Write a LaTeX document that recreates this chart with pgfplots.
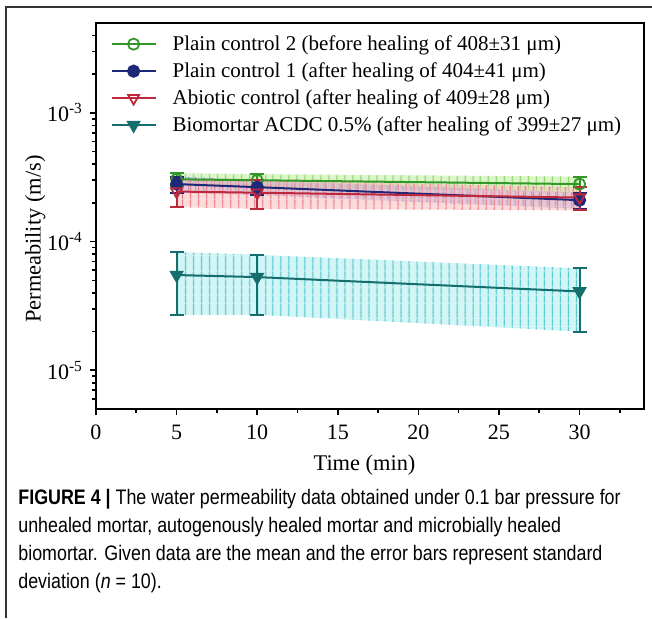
\documentclass[border=0pt]{standalone}
\usepackage{pgfplots}
\pgfplotsset{compat=1.18}
\usepackage{pgfplotstable}
\usetikzlibrary{patterns.meta}
\usepackage{fontspec}
\setmainfont{Liberation Serif}
\newfontfamily\capfont[FakeStretch=0.85]{Liberation Sans}

\definecolor{gline}{RGB}{50,150,40}
\definecolor{gband}{RGB}{195,240,165}
\definecolor{ghatch}{RGB}{140,215,100}
\definecolor{nline}{RGB}{30,40,120}
\definecolor{nband}{RGB}{175,175,235}
\definecolor{nhatch}{RGB}{120,120,210}
\definecolor{rline}{RGB}{190,40,60}
\definecolor{rband}{RGB}{248,190,190}
\definecolor{rhatch}{RGB}{235,125,135}
\definecolor{tline}{RGB}{20,110,110}
\definecolor{tband}{RGB}{180,238,238}
\definecolor{thatch}{RGB}{90,200,210}

\pgfplotstableread{
t y e
5 3.05e-4 0.35e-4
10 3.0e-4 0.35e-4
30 2.8e-4 0.4e-4
}\pctwo
\pgfplotstableread{
t y e
5 2.8e-4 0.4e-4
10 2.65e-4 0.35e-4
30 2.1e-4 0.3e-4
}\pcone
\pgfplotstableread{
t y e
5 2.45e-4 0.6e-4
10 2.4e-4 0.6e-4
30 2.2e-4 0.45e-4
}\abio
\pgfplotstableread{
t y e
5 5.5e-5 2.8e-5
10 5.3e-5 2.6e-5
30 4.1e-5 2.1e-5
}\bio

\begin{document}
\begin{tikzpicture}
\useasboundingbox (-48pt,-104.5pt) rectangle (278pt,204.5pt);
\draw[line width=1pt, black!80] (-45pt,-104.5pt) -- (-45pt,201pt) -- (278pt,201pt);
\begin{axis}[
  scale only axis, width=274pt, height=193pt,
  ymode=log, xmin=0, xmax=34, ymin=5e-6, ymax=5e-3,
  axis line style={line width=0.9pt},
  every tick/.style={black, line width=0.8pt},
  xtick={0,5,...,30}, minor xtick={2.5,7.5,...,32.5},
  ytick={1e-5,1e-4,1e-3},
  yticklabels={10\textsuperscript{-5},10\textsuperscript{-4},10\textsuperscript{-3}},
  minor ytick={6e-6,7e-6,8e-6,9e-6,2e-5,3e-5,4e-5,5e-5,6e-5,7e-5,8e-5,9e-5,2e-4,3e-4,4e-4,5e-4,6e-4,7e-4,8e-4,9e-4,2e-3,3e-3,4e-3},
  tick align=outside, xtick pos=bottom, ytick pos=left,
  major tick length=3pt, minor tick length=2pt,
  /pgf/number format/assume math mode=true,
  tick label style={font=\fontsize{11}{13}\selectfont},
  xticklabel style={yshift=-1.5pt},
  xlabel={Time (min)}, ylabel={Permeability (m/s)},
  label style={font=\fontsize{11.2}{13}\selectfont},
  xlabel style={at={(axis description cs:0.49,-0.145)}, anchor=center},
  ylabel style={at={(axis description cs:-0.111,0.44)}, anchor=center, rotate=0},
  legend style={at={(axis description cs:0.015,0.99)}, anchor=north west, draw=none, fill=none,
    font=\fontsize{10.5}{12}\selectfont, row sep=0.6pt, column sep=0pt},
  legend cell align=left,
  legend image code/.code={\draw[mark repeat=2,mark phase=2,#1] plot coordinates {(0pt,0pt)(11pt,0pt)(22pt,0pt)}; \path (28pt,0pt);},
]
% bands
\addplot[forget plot, draw=none, fill=gband, fill opacity=0.6] coordinates {(5,3.40e-4) (10,3.35e-4) (30,3.2e-4) (30,2.4e-4) (10,2.65e-4) (5,2.7e-4)} -- cycle;
\addplot[forget plot, draw=none, pattern={Lines[angle=90,distance=4pt,line width=0.7pt]}, pattern color=ghatch] coordinates {(5,3.40e-4) (10,3.35e-4) (30,3.2e-4) (30,2.4e-4) (10,2.65e-4) (5,2.7e-4)} -- cycle;
\addplot[forget plot, draw=none, fill=nband, fill opacity=0.55] coordinates {(5,3.2e-4) (10,3.0e-4) (30,2.4e-4) (30,1.8e-4) (10,2.3e-4) (5,2.4e-4)} -- cycle;
\addplot[forget plot, draw=none, pattern={Lines[angle=90,distance=4pt,line width=0.7pt,xshift=1.3pt]}, pattern color=nhatch] coordinates {(5,3.2e-4) (10,3.0e-4) (30,2.4e-4) (30,1.8e-4) (10,2.3e-4) (5,2.4e-4)} -- cycle;
\addplot[forget plot, draw=none, fill=rband, fill opacity=0.55] coordinates {(5,3.05e-4) (10,3.0e-4) (30,2.65e-4) (30,1.75e-4) (10,1.8e-4) (5,1.85e-4)} -- cycle;
\addplot[forget plot, draw=none, pattern={Lines[angle=90,distance=4pt,line width=0.7pt,xshift=2.6pt]}, pattern color=rhatch] coordinates {(5,3.05e-4) (10,3.0e-4) (30,2.65e-4) (30,1.75e-4) (10,1.8e-4) (5,1.85e-4)} -- cycle;
\addplot[forget plot, draw=none, fill=tband, fill opacity=0.6] coordinates {(5,8.3e-5) (10,7.9e-5) (30,6.2e-5) (30,2.0e-5) (10,2.7e-5) (5,2.7e-5)} -- cycle;
\addplot[forget plot, draw=none, pattern={Lines[angle=90,distance=4pt,line width=0.7pt]}, pattern color=thatch] coordinates {(5,8.3e-5) (10,7.9e-5) (30,6.2e-5) (30,2.0e-5) (10,2.7e-5) (5,2.7e-5)} -- cycle;
% lines
\addplot[color=gline, line width=1pt, mark=o, mark size=2.8pt, mark options={solid, fill=white, line width=0.9pt},
  error bars/.cd, y dir=both, y explicit, error bar style={line width=1pt},
  error mark options={rotate=90, mark size=3.5pt, line width=1pt}]
  table[x=t, y=y, y error=e] {\pctwo};
\addlegendentry{Plain control 2 (before healing of 408±31 μm)}
\addplot[color=nline, line width=1pt, mark=*, mark size=2.8pt, mark options={solid, fill=nline},
  error bars/.cd, y dir=both, y explicit, error bar style={line width=1pt},
  error mark options={rotate=90, mark size=3.5pt, line width=1pt}]
  table[x=t, y=y, y error=e] {\pcone};
\addlegendentry{Plain control 1 (after healing of 404±41 μm)}
\addplot[color=rline, line width=1pt, mark=triangle, mark size=3.2pt, mark options={solid, rotate=180, fill=white, line width=0.9pt},
  error bars/.cd, y dir=both, y explicit, error bar style={line width=1pt},
  error mark options={rotate=90, mark size=3.5pt, line width=1pt}]
  table[x=t, y=y, y error=e] {\abio};
\addlegendentry{Abiotic control (after healing of 409±28 μm)}
\addplot[color=tline, line width=1pt, mark=triangle*, mark size=3.2pt, mark options={solid, rotate=180, fill=tline},
  error bars/.cd, y dir=both, y explicit, error bar style={line width=1pt},
  error mark options={rotate=90, mark size=3.5pt, line width=1pt}]
  table[x=t, y=y, y error=e] {\bio};
\addlegendentry{Biomortar ACDC 0.5\% (after healing of 399±27 μm)}
\end{axis}
\node[anchor=north west, inner sep=0pt, align=left, font=\capfont\fontsize{10.5}{14}\selectfont] at (-39pt,-40pt)
{\textbf{FIGURE 4 |} The water permeability data obtained under 0.1 bar pressure for\\
unhealed mortar, autogenously healed mortar and microbially healed\\
biomortar. Given data are the mean and the error bars represent standard\\
deviation (\textit{n} = 10).};
\end{tikzpicture}
\end{document}
